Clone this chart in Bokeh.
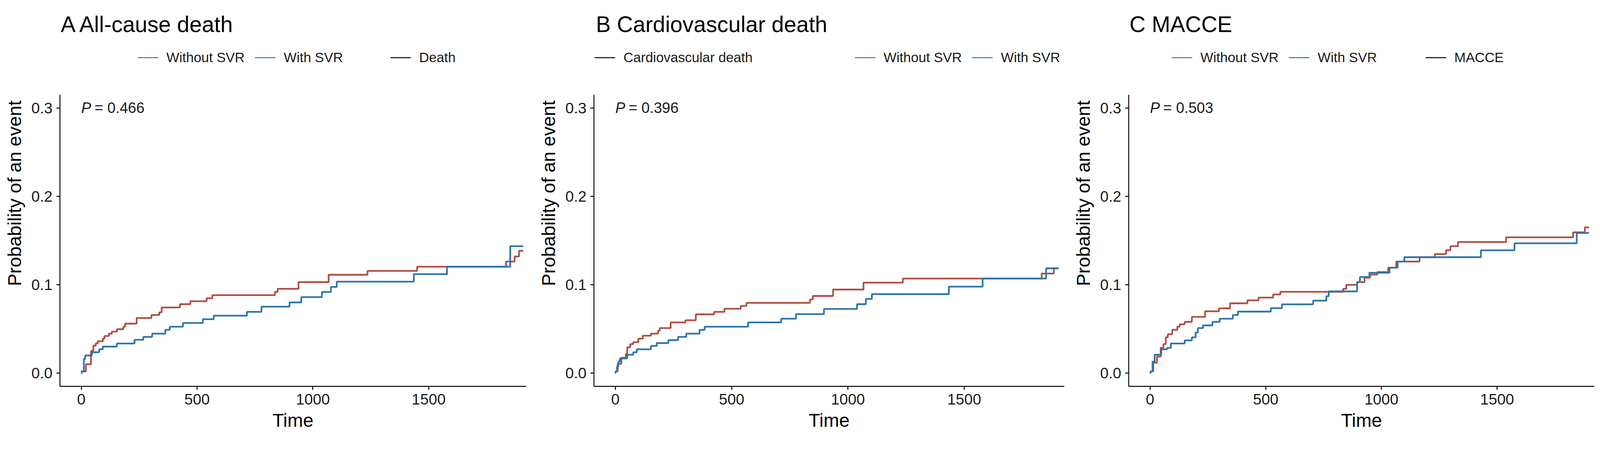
from bokeh.plotting import figure
from bokeh.models import Range1d, FixedTicker, PrintfTickFormatter, Label, Legend, LegendItem
from bokeh.layouts import row
from bokeh.embed import file_html
from bokeh.resources import INLINE

# ---------------- data ----------------
panel_titles = ["A All-cause death", "B Cardiovascular death", "C MACCE"]
event_labels = ["Death", "Cardiovascular death", "MACCE"]
p_values = ["0.466", "0.396", "0.503"]
group_labels = ["Without SVR", "With SVR"]
x_ticks = [0, 500, 1000, 1500]
y_ticks = [0.0, 0.1, 0.2, 0.3]

# Panel A: all-cause death (cumulative incidence, step "after")
a_without_t = [0, 2, 20, 42, 52, 62, 71, 93, 100, 119, 132, 154, 182, 189, 239, 303, 337, 347,
               426, 471, 541, 566, 836, 848, 938, 1068, 1236, 1450, 1834, 1871, 1890, 1908]
a_without_p = [0, 0.002, 0.010, 0.025, 0.031, 0.0335, 0.036, 0.039, 0.042, 0.0447, 0.047, 0.0497,
               0.0525, 0.056, 0.0624, 0.0658, 0.0688, 0.0743, 0.078, 0.0814, 0.0848, 0.0882, 0.092,
               0.0954, 0.103, 0.1113, 0.1157, 0.1204, 0.1263, 0.132, 0.1385, 0.1385]
a_with_t = [0, 2, 11, 17, 46, 77, 93, 154, 230, 268, 306, 363, 382, 439, 525, 572, 715, 778, 899,
            950, 1039, 1078, 1103, 1436, 1579, 1852, 1908]
a_with_p = [0, 0.002, 0.016, 0.020, 0.0236, 0.027, 0.030, 0.0335, 0.0377, 0.041, 0.0447, 0.049,
            0.0525, 0.0567, 0.061, 0.065, 0.0693, 0.0752, 0.080, 0.086, 0.0918, 0.0975, 0.1035,
            0.112, 0.1204, 0.1436, 0.1436]

# Panel B: cardiovascular death
b_without_t = [0, 1, 10, 26, 45, 51, 64, 77, 99, 118, 153, 184, 191, 238, 301, 346, 425, 469, 539,
               564, 837, 849, 936, 1067, 1236, 1833, 1885, 1906]
b_without_p = [0, 0.002, 0.0105, 0.0173, 0.0215, 0.0292, 0.0328, 0.035, 0.039, 0.0423, 0.0447,
               0.0482, 0.051, 0.0574, 0.0598, 0.0665, 0.0693, 0.0729, 0.0761, 0.0795, 0.0834,
               0.0873, 0.0946, 0.1024, 0.107, 0.1127, 0.1186, 0.1186]
b_with_t = [0, 1, 7, 13, 20, 51, 77, 92, 153, 178, 228, 270, 305, 362, 384, 571, 713, 777, 897,
            1039, 1077, 1103, 1434, 1579, 1852, 1906]
b_with_p = [0, 0.002, 0.0075, 0.013, 0.0166, 0.0208, 0.0236, 0.027, 0.0307, 0.034, 0.0373, 0.041,
            0.0447, 0.049, 0.0525, 0.0574, 0.0616, 0.0668, 0.0726, 0.078, 0.084, 0.0894, 0.0979,
            0.107, 0.1186, 0.1186]

# Panel C: MACCE
c_without_t = [0, 2, 14, 30, 46, 58, 68, 77, 96, 118, 128, 150, 181, 238, 298, 346, 421, 469, 532,
               563, 835, 848, 895, 927, 951, 982, 1029, 1064, 1165, 1231, 1279, 1298, 1331, 1539,
               1828, 1879, 1897]
c_without_p = [0, 0.002, 0.0117, 0.0187, 0.0286, 0.0328, 0.0405, 0.044, 0.049, 0.0525, 0.0553,
               0.058, 0.0637, 0.070, 0.0733, 0.079, 0.0824, 0.0855, 0.089, 0.092, 0.0954, 0.100,
               0.103, 0.108, 0.1115, 0.1143, 0.1193, 0.1263, 0.1312, 0.1347, 0.139, 0.1436,
               0.1484, 0.1537, 0.1593, 0.165, 0.165]
c_with_t = [0, 2, 11, 20, 49, 74, 90, 150, 181, 197, 207, 229, 270, 301, 358, 380, 522, 570, 705,
            762, 772, 895, 907, 948, 1035, 1070, 1099, 1430, 1575, 1844, 1897]
c_with_p = [0, 0.002, 0.013, 0.0208, 0.027, 0.0286, 0.0335, 0.037, 0.0405, 0.046, 0.051, 0.054,
            0.058, 0.0616, 0.0658, 0.0696, 0.0735, 0.0778, 0.082, 0.087, 0.0925, 0.103, 0.1088,
            0.1136, 0.1193, 0.1263, 0.1312, 0.139, 0.147, 0.1586, 0.1586]

without_t = [a_without_t, b_without_t, c_without_t]
without_p = [a_without_p, b_without_p, c_without_p]
with_t = [a_with_t, b_with_t, c_with_t]
with_p = [a_with_p, b_with_p, c_with_p]

# ---------------- style / layout ----------------
RED = "#B04C40"
BLUE = "#2C74AA"
FONT = "Liberation Sans"
TXT = "#1a1a1a"

FIG_W, FIG_H = 1364, 1108
BOTTOM = 120
Y_LO, Y_HI = -0.015, 0.315            # visible axis extent
AXIS_PX = 746                          # pixel length of the visible y axis
FRAME_H = FIG_H - BOTTOM
Y_TOP = Y_LO + FRAME_H * (Y_HI - Y_LO) / AXIS_PX   # frame extends up for title + legend
X_LO = -92
x_hi = [1920, 1930, 1920]

borders = [(153, 18), (156, 4), (161, 11)]
title_dx = [2, 5, 2]
LEG_Y = 821
legend_pos = [
    (("color", 199), ("event", 846)),
    (("event", 2), ("color", 668)),
    (("color", 110), ("event", 760)),
]


def make_panel(i):
    bl, br = borders[i]
    p = figure(width=FIG_W, height=FIG_H, output_backend="svg", toolbar_location=None,
               title=None,
               x_range=Range1d(X_LO, x_hi[i]), y_range=Range1d(Y_LO, Y_TOP),
               min_border_left=bl, min_border_right=br, min_border_top=0,
               min_border_bottom=BOTTOM)
    p.xgrid.visible = False
    p.ygrid.visible = False
    p.outline_line_color = None
    p.background_fill_color = "white"

    p.xaxis.ticker = FixedTicker(ticks=x_ticks)
    p.yaxis.ticker = FixedTicker(ticks=y_ticks)
    p.yaxis.formatter = PrintfTickFormatter(format="%.1f")
    p.yaxis.bounds = (Y_LO, Y_HI)
    for ax in (p.xaxis, p.yaxis):
        ax.axis_line_color = "black"
        ax.axis_line_width = 2.4
        ax.major_tick_line_color = "black"
        ax.major_tick_line_width = 2.4
        ax.major_tick_out = 9
        ax.major_tick_in = 0
        ax.minor_tick_line_color = None
        ax.major_label_text_font = FONT
        ax.major_label_text_font_size = "39px"
        ax.major_label_text_color = TXT
        ax.axis_label_text_font = FONT
        ax.axis_label_text_font_size = "48px"
        ax.axis_label_text_font_style = "normal"
        ax.axis_label_text_color = "black"
    p.xaxis.major_label_standoff = 10
    p.yaxis.major_label_standoff = 10
    p.xaxis.axis_label = "Time"
    p.yaxis.axis_label = "Probability of an event"
    p.xaxis.axis_label_standoff = 11
    p.yaxis.axis_label_standoff = 13

    p.step(x=without_t[i], y=without_p[i], mode="after", line_color=RED, line_width=4.3)
    p.step(x=with_t[i], y=with_p[i], mode="after", line_color=BLUE, line_width=4.3)

    # legend sample renderers (single point -> no visible line in the plot)
    l_red = p.line(x=without_t[i][:1], y=without_p[i][:1], line_color=RED, line_width=2.4)
    l_blue = p.line(x=with_t[i][:1], y=with_p[i][:1], line_color=BLUE, line_width=2.4)
    l_evt = p.line(x=without_t[i][:1], y=without_p[i][:1], line_color="black", line_width=2.4)

    for kind, lx in legend_pos[i]:
        if kind == "color":
            items = [LegendItem(label=group_labels[0], renderers=[l_red]),
                     LegendItem(label=group_labels[1], renderers=[l_blue])]
        else:
            items = [LegendItem(label=event_labels[i], renderers=[l_evt])]
        lg = Legend(items=items, orientation="horizontal", location=(lx, LEG_Y),
                    glyph_width=53, glyph_height=38, label_height=38, label_width=10,
                    label_standoff=21, spacing=26, padding=0, margin=0,
                    border_line_alpha=0, background_fill_alpha=0,
                    label_text_font=FONT, label_text_font_size="35px",
                    label_text_color=TXT)
        p.add_layout(lg)

    # panel title (inside the extended frame, above the axis)
    p.add_layout(Label(x=X_LO, y=Y_TOP, x_offset=title_dx[i], y_offset=-61, text=panel_titles[i],
                       text_font=FONT, text_font_size="57px", text_color="black",
                       text_baseline="alphabetic", text_align="left"))
    # P value annotation
    p.add_layout(Label(x=0, y=0.3, text="P", text_font=FONT, text_font_size="38px",
                       text_font_style="italic", text_color=TXT, text_baseline="middle"))
    p.add_layout(Label(x=0, y=0.3, x_offset=34, text="= " + p_values[i], text_font=FONT,
                       text_font_size="38px", text_color=TXT, text_baseline="middle"))
    return p


layout = row(*[make_panel(i) for i in range(3)])
open("out.html", "w").write(file_html(layout, INLINE))
